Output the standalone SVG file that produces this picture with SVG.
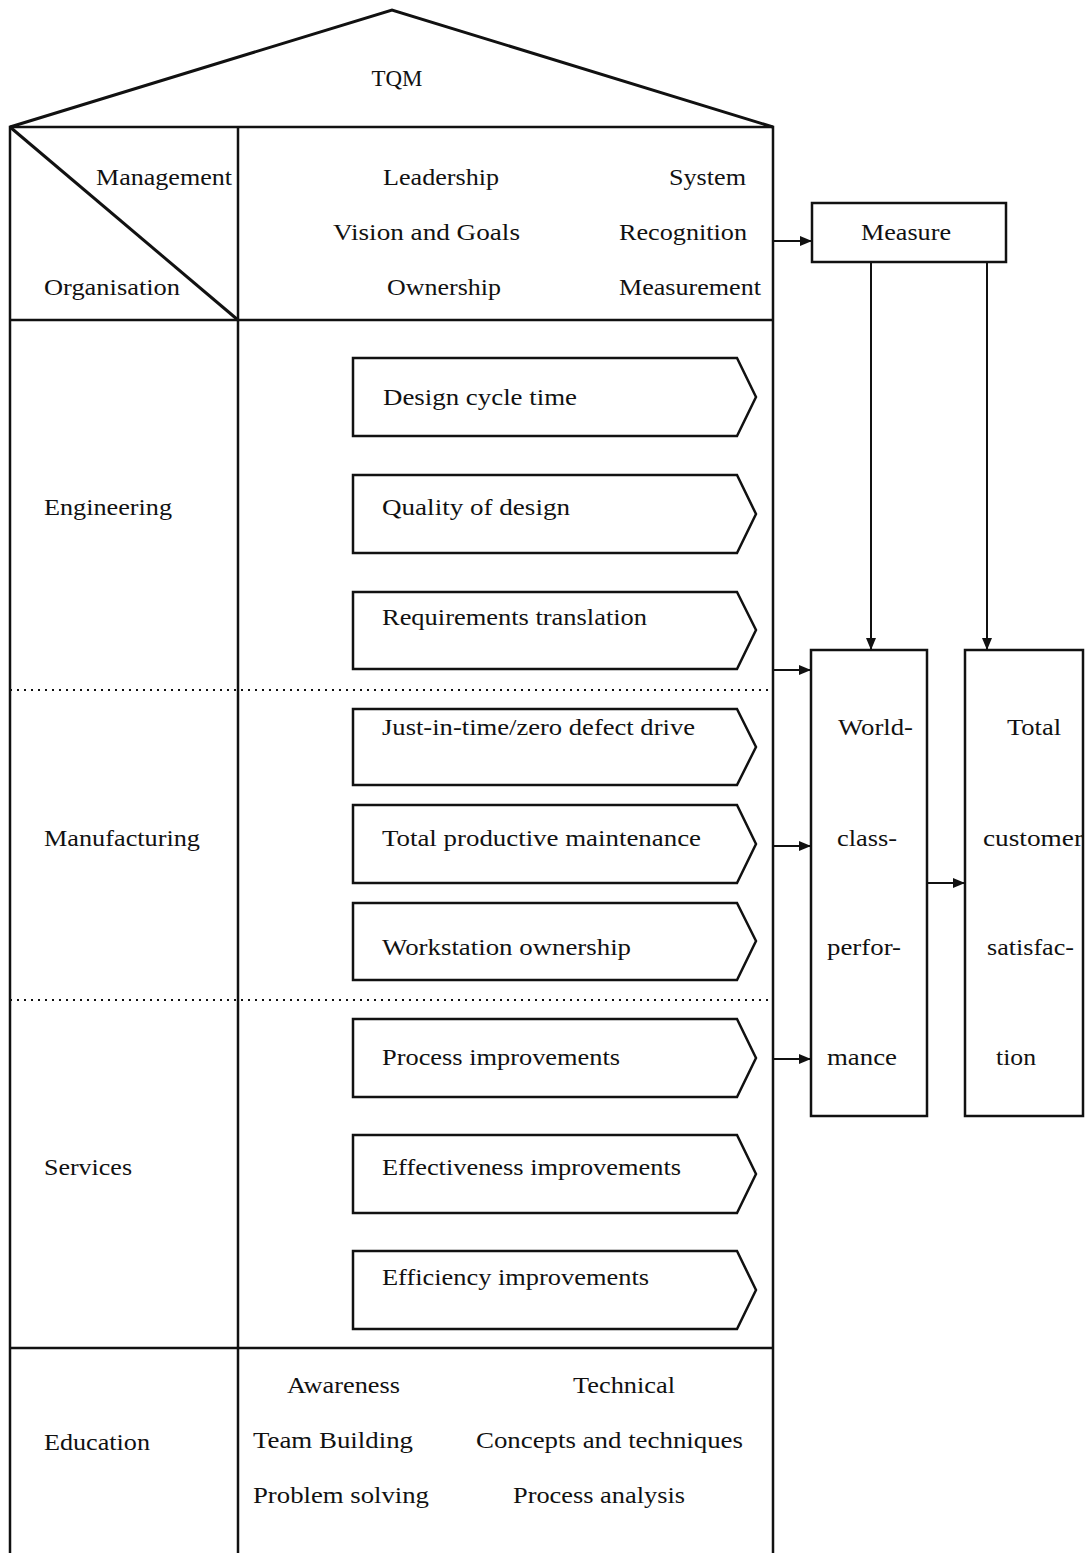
<svg xmlns="http://www.w3.org/2000/svg" width="1088" height="1553" viewBox="0 0 1088 1553">
<style>
.ln{stroke:#111;stroke-width:2.5;fill:none}
.roof{stroke:#111;stroke-width:3;fill:none}
.bx{stroke:#111;stroke-width:2.5;fill:#fff}
.dot{stroke:#111;stroke-width:2;stroke-dasharray:2 5;fill:none}
.cn{stroke:#111;stroke-width:2;fill:none}
text{font-family:"Liberation Serif","Times New Roman",serif;font-size:24px;fill:#111}
</style>
<defs>
<marker id="ah" markerWidth="12" markerHeight="12" refX="11" refY="6" orient="auto" markerUnits="userSpaceOnUse">
<path d="M0,1 L12,6 L0,11 Z" fill="#111"/>
</marker>
</defs>
<rect width="1088" height="1553" fill="#fff"/>
<g id="house">
<path class="roof" d="M10,127 L392,10 L773,127"/>
<path class="ln" d="M10,1553 L10,127 L773,127 L773,1553"/>
<line class="ln" x1="238" y1="127" x2="238" y2="1553"/>
<line class="roof" x1="10" y1="127" x2="238" y2="320"/>
<line class="ln" x1="10" y1="320" x2="773" y2="320"/>
<line class="ln" x1="10" y1="1348" x2="773" y2="1348"/>
<line class="dot" x1="10" y1="690" x2="773" y2="690"/>
<line class="dot" x1="10" y1="1000" x2="773" y2="1000"/>
<text x="397" y="86" text-anchor="middle" textLength="51" lengthAdjust="spacingAndGlyphs">TQM</text>
</g>
<g id="management">
<text x="96" y="185" textLength="136" lengthAdjust="spacingAndGlyphs">Management</text>
<text x="44" y="295" textLength="136" lengthAdjust="spacingAndGlyphs">Organisation</text>
<text x="383" y="185" textLength="116" lengthAdjust="spacingAndGlyphs">Leadership</text>
<text x="669" y="185" textLength="77" lengthAdjust="spacingAndGlyphs">System</text>
<text x="333" y="240" textLength="187" lengthAdjust="spacingAndGlyphs">Vision and Goals</text>
<text x="619" y="240" textLength="128" lengthAdjust="spacingAndGlyphs">Recognition</text>
<text x="387" y="295" textLength="114" lengthAdjust="spacingAndGlyphs">Ownership</text>
<text x="619" y="295" textLength="142" lengthAdjust="spacingAndGlyphs">Measurement</text>
</g>
<g id="sections">
<text x="44" y="515" textLength="128" lengthAdjust="spacingAndGlyphs">Engineering</text>
<text x="44" y="846" textLength="156" lengthAdjust="spacingAndGlyphs">Manufacturing</text>
<text x="44" y="1175" textLength="88" lengthAdjust="spacingAndGlyphs">Services</text>
<text x="44" y="1450" textLength="106" lengthAdjust="spacingAndGlyphs">Education</text>
</g>
<g id="a1"><path class="bx" d="M353,358 L737,358 L756,397 L737,436 L353,436 Z"/><text x="383" y="405" textLength="194" lengthAdjust="spacingAndGlyphs">Design cycle time</text></g>
<g id="a2"><path class="bx" d="M353,475 L737,475 L756,514 L737,553 L353,553 Z"/><text x="382" y="515" textLength="188" lengthAdjust="spacingAndGlyphs">Quality of design</text></g>
<g id="a3"><path class="bx" d="M353,592 L737,592 L756,630 L737,669 L353,669 Z"/><text x="382" y="625" textLength="265" lengthAdjust="spacingAndGlyphs">Requirements translation</text></g>
<g id="a4"><path class="bx" d="M353,709 L737,709 L756,747 L737,785 L353,785 Z"/><text x="382" y="735" textLength="313" lengthAdjust="spacingAndGlyphs">Just-in-time/zero defect drive</text></g>
<g id="a5"><path class="bx" d="M353,805 L737,805 L756,844 L737,883 L353,883 Z"/><text x="382" y="846" textLength="319" lengthAdjust="spacingAndGlyphs">Total productive maintenance</text></g>
<g id="a6"><path class="bx" d="M353,903 L737,903 L756,941 L737,980 L353,980 Z"/><text x="382" y="955" textLength="249" lengthAdjust="spacingAndGlyphs">Workstation ownership</text></g>
<g id="a7"><path class="bx" d="M353,1019 L737,1019 L756,1058 L737,1097 L353,1097 Z"/><text x="382" y="1065" textLength="238" lengthAdjust="spacingAndGlyphs">Process improvements</text></g>
<g id="a8"><path class="bx" d="M353,1135 L737,1135 L756,1174 L737,1213 L353,1213 Z"/><text x="382" y="1175" textLength="299" lengthAdjust="spacingAndGlyphs">Effectiveness improvements</text></g>
<g id="a9"><path class="bx" d="M353,1251 L737,1251 L756,1290 L737,1329 L353,1329 Z"/><text x="382" y="1285" textLength="267" lengthAdjust="spacingAndGlyphs">Efficiency improvements</text></g>
<g id="education">
<text x="287" y="1393" textLength="113" lengthAdjust="spacingAndGlyphs">Awareness</text>
<text x="573" y="1393" textLength="102" lengthAdjust="spacingAndGlyphs">Technical</text>
<text x="253" y="1448" textLength="160" lengthAdjust="spacingAndGlyphs">Team Building</text>
<text x="476" y="1448" textLength="267" lengthAdjust="spacingAndGlyphs">Concepts and techniques</text>
<text x="253" y="1503" textLength="176" lengthAdjust="spacingAndGlyphs">Problem solving</text>
<text x="513" y="1503" textLength="172" lengthAdjust="spacingAndGlyphs">Process analysis</text>
</g>
<g id="measure"><rect class="bx" x="812" y="203" width="194" height="59"/><text x="861" y="240" textLength="90" lengthAdjust="spacingAndGlyphs">Measure</text></g>
<g id="world"><rect class="bx" x="811" y="650" width="116" height="466"/>
<text x="838" y="735" textLength="75" lengthAdjust="spacingAndGlyphs">World-</text>
<text x="837" y="846" textLength="60" lengthAdjust="spacingAndGlyphs">class-</text>
<text x="827" y="955" textLength="74" lengthAdjust="spacingAndGlyphs">perfor-</text>
<text x="827" y="1065" textLength="70" lengthAdjust="spacingAndGlyphs">mance</text>
</g>
<g id="total"><rect class="bx" x="965" y="650" width="118" height="466"/>
<text x="1007" y="735" textLength="54" lengthAdjust="spacingAndGlyphs">Total</text>
<text x="983" y="846" textLength="100" lengthAdjust="spacingAndGlyphs">customer</text>
<text x="987" y="955" textLength="87" lengthAdjust="spacingAndGlyphs">satisfac-</text>
<text x="996" y="1065" textLength="40" lengthAdjust="spacingAndGlyphs">tion</text>
</g>
<g id="connectors">
<line class="cn" x1="773" y1="241" x2="811" y2="241" marker-end="url(#ah)"/>
<line class="cn" x1="871" y1="262" x2="871" y2="649" marker-end="url(#ah)"/>
<line class="cn" x1="987" y1="262" x2="987" y2="649" marker-end="url(#ah)"/>
<line class="cn" x1="773" y1="670" x2="810" y2="670" marker-end="url(#ah)"/>
<line class="cn" x1="773" y1="846" x2="810" y2="846" marker-end="url(#ah)"/>
<line class="cn" x1="773" y1="1059" x2="810" y2="1059" marker-end="url(#ah)"/>
<line class="cn" x1="927" y1="883" x2="964" y2="883" marker-end="url(#ah)"/>
</g>
</svg>
